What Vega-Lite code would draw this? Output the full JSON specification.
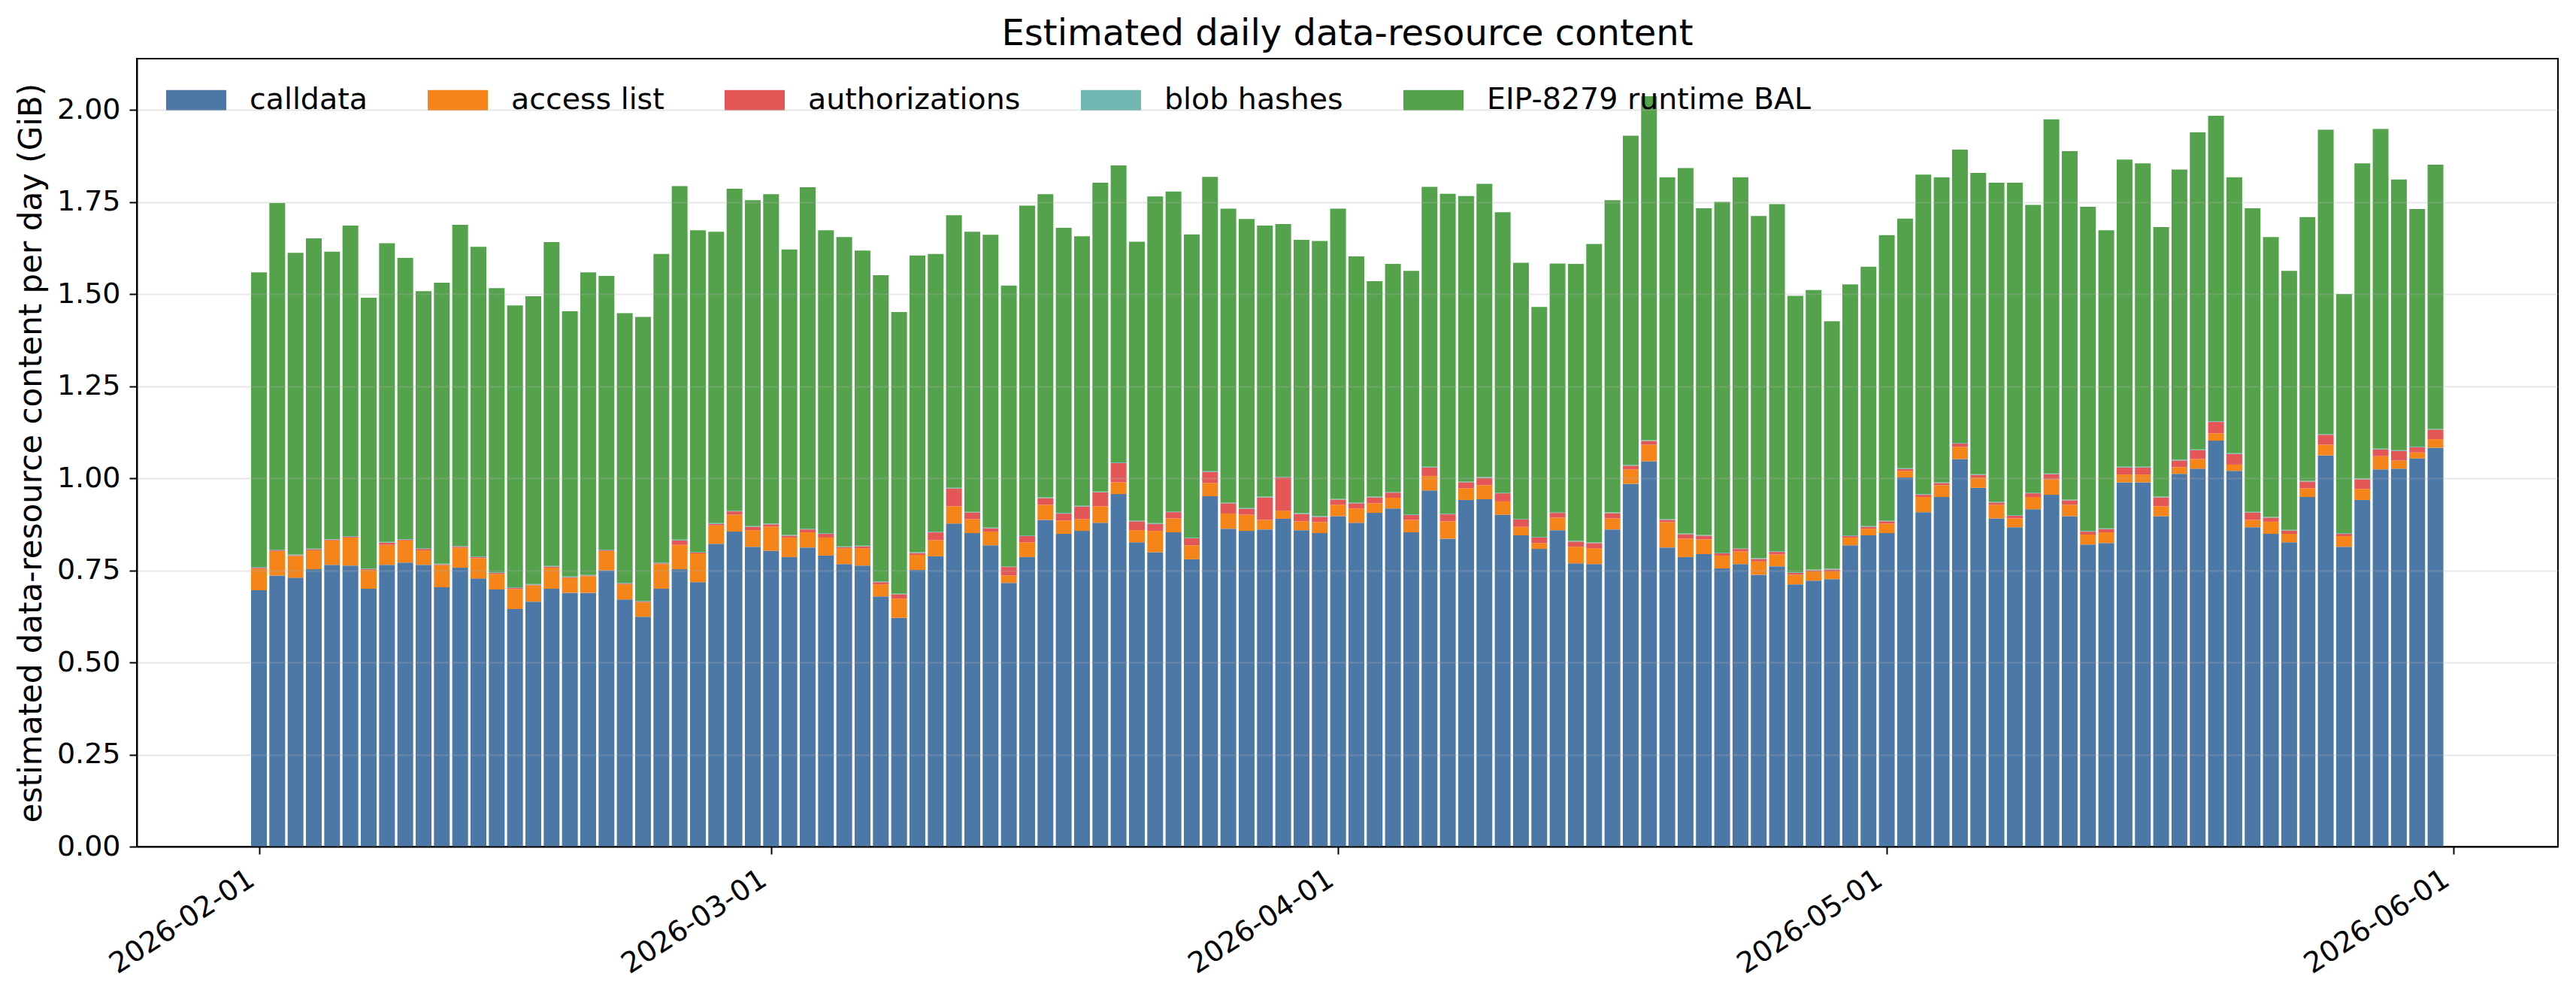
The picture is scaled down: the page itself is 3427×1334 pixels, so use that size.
{
  "$schema": "https://vega.github.io/schema/vega-lite/v6.json",
  "width": 3221,
  "height": 1048,
  "padding": {"left": 20, "top": 22, "right": 21, "bottom": 10},
  "autosize": {"type": "pad"},
  "background": "white",
  "config": {"font": "DejaVu Sans", "view": {"stroke": "black", "strokeWidth": 2}},
  "title": {"text": "Estimated daily data-resource content", "fontSize": 48, "fontWeight": "normal", "color": "black", "anchor": "middle", "offset": 8},
  "data": {"values": [
    {"date":"2026-02-01","calldata":0.696,"access_list":0.058,"authorizations":0.003,"blob_hashes":0.002,"bal":0.800},
    {"date":"2026-02-02","calldata":0.736,"access_list":0.066,"authorizations":0.002,"blob_hashes":0.002,"bal":0.941},
    {"date":"2026-02-03","calldata":0.730,"access_list":0.059,"authorizations":0.002,"blob_hashes":0.002,"bal":0.819},
    {"date":"2026-02-04","calldata":0.753,"access_list":0.051,"authorizations":0.003,"blob_hashes":0.002,"bal":0.842},
    {"date":"2026-02-05","calldata":0.765,"access_list":0.066,"authorizations":0.002,"blob_hashes":0.002,"bal":0.780},
    {"date":"2026-02-06","calldata":0.763,"access_list":0.076,"authorizations":0.002,"blob_hashes":0.002,"bal":0.843},
    {"date":"2026-02-07","calldata":0.700,"access_list":0.051,"authorizations":0.002,"blob_hashes":0.002,"bal":0.735},
    {"date":"2026-02-08","calldata":0.765,"access_list":0.054,"authorizations":0.006,"blob_hashes":0.002,"bal":0.811},
    {"date":"2026-02-09","calldata":0.771,"access_list":0.060,"authorizations":0.002,"blob_hashes":0.002,"bal":0.763},
    {"date":"2026-02-10","calldata":0.765,"access_list":0.039,"authorizations":0.004,"blob_hashes":0.002,"bal":0.698},
    {"date":"2026-02-11","calldata":0.704,"access_list":0.060,"authorizations":0.002,"blob_hashes":0.002,"bal":0.763},
    {"date":"2026-02-12","calldata":0.757,"access_list":0.054,"authorizations":0.003,"blob_hashes":0.002,"bal":0.872},
    {"date":"2026-02-13","calldata":0.728,"access_list":0.055,"authorizations":0.003,"blob_hashes":0.002,"bal":0.840},
    {"date":"2026-02-14","calldata":0.698,"access_list":0.042,"authorizations":0.003,"blob_hashes":0.002,"bal":0.771},
    {"date":"2026-02-15","calldata":0.645,"access_list":0.054,"authorizations":0.003,"blob_hashes":0.002,"bal":0.765},
    {"date":"2026-02-16","calldata":0.665,"access_list":0.044,"authorizations":0.002,"blob_hashes":0.002,"bal":0.781},
    {"date":"2026-02-17","calldata":0.700,"access_list":0.057,"authorizations":0.003,"blob_hashes":0.002,"bal":0.879},
    {"date":"2026-02-18","calldata":0.689,"access_list":0.040,"authorizations":0.002,"blob_hashes":0.002,"bal":0.720},
    {"date":"2026-02-19","calldata":0.689,"access_list":0.045,"authorizations":0.002,"blob_hashes":0.002,"bal":0.821},
    {"date":"2026-02-20","calldata":0.750,"access_list":0.052,"authorizations":0.002,"blob_hashes":0.002,"bal":0.743},
    {"date":"2026-02-21","calldata":0.671,"access_list":0.041,"authorizations":0.002,"blob_hashes":0.002,"bal":0.732},
    {"date":"2026-02-22","calldata":0.624,"access_list":0.039,"authorizations":0.002,"blob_hashes":0.002,"bal":0.771},
    {"date":"2026-02-23","calldata":0.700,"access_list":0.067,"authorizations":0.002,"blob_hashes":0.002,"bal":0.838},
    {"date":"2026-02-24","calldata":0.753,"access_list":0.066,"authorizations":0.012,"blob_hashes":0.002,"bal":0.960},
    {"date":"2026-02-25","calldata":0.718,"access_list":0.078,"authorizations":0.002,"blob_hashes":0.002,"bal":0.873},
    {"date":"2026-02-26","calldata":0.822,"access_list":0.050,"authorizations":0.004,"blob_hashes":0.002,"bal":0.791},
    {"date":"2026-02-27","calldata":0.855,"access_list":0.046,"authorizations":0.009,"blob_hashes":0.002,"bal":0.874},
    {"date":"2026-02-28","calldata":0.814,"access_list":0.045,"authorizations":0.009,"blob_hashes":0.002,"bal":0.885},
    {"date":"2026-03-01","calldata":0.803,"access_list":0.066,"authorizations":0.006,"blob_hashes":0.002,"bal":0.894},
    {"date":"2026-03-02","calldata":0.786,"access_list":0.053,"authorizations":0.005,"blob_hashes":0.002,"bal":0.775},
    {"date":"2026-03-03","calldata":0.812,"access_list":0.041,"authorizations":0.008,"blob_hashes":0.002,"bal":0.927},
    {"date":"2026-03-04","calldata":0.790,"access_list":0.049,"authorizations":0.010,"blob_hashes":0.002,"bal":0.822},
    {"date":"2026-03-05","calldata":0.767,"access_list":0.043,"authorizations":0.003,"blob_hashes":0.002,"bal":0.840},
    {"date":"2026-03-06","calldata":0.763,"access_list":0.047,"authorizations":0.005,"blob_hashes":0.002,"bal":0.801},
    {"date":"2026-03-07","calldata":0.679,"access_list":0.033,"authorizations":0.006,"blob_hashes":0.002,"bal":0.831},
    {"date":"2026-03-08","calldata":0.621,"access_list":0.052,"authorizations":0.012,"blob_hashes":0.002,"bal":0.764},
    {"date":"2026-03-09","calldata":0.751,"access_list":0.041,"authorizations":0.005,"blob_hashes":0.002,"bal":0.806},
    {"date":"2026-03-10","calldata":0.788,"access_list":0.044,"authorizations":0.021,"blob_hashes":0.002,"bal":0.754},
    {"date":"2026-03-11","calldata":0.877,"access_list":0.047,"authorizations":0.048,"blob_hashes":0.002,"bal":0.740},
    {"date":"2026-03-12","calldata":0.851,"access_list":0.038,"authorizations":0.018,"blob_hashes":0.002,"bal":0.760},
    {"date":"2026-03-13","calldata":0.818,"access_list":0.037,"authorizations":0.009,"blob_hashes":0.002,"bal":0.795},
    {"date":"2026-03-14","calldata":0.716,"access_list":0.020,"authorizations":0.023,"blob_hashes":0.002,"bal":0.762},
    {"date":"2026-03-15","calldata":0.786,"access_list":0.040,"authorizations":0.017,"blob_hashes":0.002,"bal":0.895},
    {"date":"2026-03-16","calldata":0.887,"access_list":0.041,"authorizations":0.018,"blob_hashes":0.002,"bal":0.823},
    {"date":"2026-03-17","calldata":0.849,"access_list":0.036,"authorizations":0.019,"blob_hashes":0.002,"bal":0.774},
    {"date":"2026-03-18","calldata":0.857,"access_list":0.032,"authorizations":0.034,"blob_hashes":0.002,"bal":0.732},
    {"date":"2026-03-19","calldata":0.879,"access_list":0.045,"authorizations":0.038,"blob_hashes":0.002,"bal":0.838},
    {"date":"2026-03-20","calldata":0.957,"access_list":0.032,"authorizations":0.052,"blob_hashes":0.002,"bal":0.806},
    {"date":"2026-03-21","calldata":0.826,"access_list":0.033,"authorizations":0.024,"blob_hashes":0.002,"bal":0.757},
    {"date":"2026-03-22","calldata":0.799,"access_list":0.058,"authorizations":0.019,"blob_hashes":0.002,"bal":0.887},
    {"date":"2026-03-23","calldata":0.853,"access_list":0.038,"authorizations":0.017,"blob_hashes":0.002,"bal":0.868},
    {"date":"2026-03-24","calldata":0.780,"access_list":0.038,"authorizations":0.019,"blob_hashes":0.002,"bal":0.823},
    {"date":"2026-03-25","calldata":0.951,"access_list":0.036,"authorizations":0.030,"blob_hashes":0.002,"bal":0.799},
    {"date":"2026-03-26","calldata":0.863,"access_list":0.041,"authorizations":0.028,"blob_hashes":0.002,"bal":0.798},
    {"date":"2026-03-27","calldata":0.857,"access_list":0.044,"authorizations":0.016,"blob_hashes":0.002,"bal":0.785},
    {"date":"2026-03-28","calldata":0.861,"access_list":0.026,"authorizations":0.061,"blob_hashes":0.002,"bal":0.736},
    {"date":"2026-03-29","calldata":0.890,"access_list":0.022,"authorizations":0.090,"blob_hashes":0.002,"bal":0.686},
    {"date":"2026-03-30","calldata":0.859,"access_list":0.024,"authorizations":0.020,"blob_hashes":0.002,"bal":0.742},
    {"date":"2026-03-31","calldata":0.851,"access_list":0.030,"authorizations":0.014,"blob_hashes":0.002,"bal":0.747},
    {"date":"2026-04-01","calldata":0.897,"access_list":0.031,"authorizations":0.014,"blob_hashes":0.002,"bal":0.788},
    {"date":"2026-04-02","calldata":0.879,"access_list":0.039,"authorizations":0.014,"blob_hashes":0.002,"bal":0.668},
    {"date":"2026-04-03","calldata":0.906,"access_list":0.026,"authorizations":0.016,"blob_hashes":0.002,"bal":0.585},
    {"date":"2026-04-04","calldata":0.918,"access_list":0.029,"authorizations":0.014,"blob_hashes":0.002,"bal":0.619},
    {"date":"2026-04-05","calldata":0.853,"access_list":0.034,"authorizations":0.013,"blob_hashes":0.002,"bal":0.661},
    {"date":"2026-04-06","calldata":0.967,"access_list":0.039,"authorizations":0.023,"blob_hashes":0.002,"bal":0.760},
    {"date":"2026-04-07","calldata":0.836,"access_list":0.047,"authorizations":0.019,"blob_hashes":0.002,"bal":0.868},
    {"date":"2026-04-08","calldata":0.941,"access_list":0.032,"authorizations":0.016,"blob_hashes":0.002,"bal":0.775},
    {"date":"2026-04-09","calldata":0.943,"access_list":0.038,"authorizations":0.020,"blob_hashes":0.002,"bal":0.796},
    {"date":"2026-04-10","calldata":0.901,"access_list":0.036,"authorizations":0.022,"blob_hashes":0.002,"bal":0.761},
    {"date":"2026-04-11","calldata":0.845,"access_list":0.023,"authorizations":0.020,"blob_hashes":0.002,"bal":0.695},
    {"date":"2026-04-12","calldata":0.808,"access_list":0.016,"authorizations":0.015,"blob_hashes":0.002,"bal":0.624},
    {"date":"2026-04-13","calldata":0.859,"access_list":0.034,"authorizations":0.013,"blob_hashes":0.002,"bal":0.675},
    {"date":"2026-04-14","calldata":0.769,"access_list":0.045,"authorizations":0.014,"blob_hashes":0.002,"bal":0.752},
    {"date":"2026-04-15","calldata":0.767,"access_list":0.043,"authorizations":0.014,"blob_hashes":0.002,"bal":0.810},
    {"date":"2026-04-16","calldata":0.861,"access_list":0.030,"authorizations":0.014,"blob_hashes":0.002,"bal":0.848},
    {"date":"2026-04-17","calldata":0.985,"access_list":0.039,"authorizations":0.010,"blob_hashes":0.002,"bal":0.894},
    {"date":"2026-04-18","calldata":1.046,"access_list":0.045,"authorizations":0.010,"blob_hashes":0.002,"bal":0.934},
    {"date":"2026-04-19","calldata":0.812,"access_list":0.069,"authorizations":0.006,"blob_hashes":0.002,"bal":0.928},
    {"date":"2026-04-20","calldata":0.786,"access_list":0.050,"authorizations":0.012,"blob_hashes":0.002,"bal":0.992},
    {"date":"2026-04-21","calldata":0.794,"access_list":0.040,"authorizations":0.010,"blob_hashes":0.002,"bal":0.887},
    {"date":"2026-04-22","calldata":0.755,"access_list":0.035,"authorizations":0.006,"blob_hashes":0.002,"bal":0.952},
    {"date":"2026-04-23","calldata":0.767,"access_list":0.034,"authorizations":0.007,"blob_hashes":0.002,"bal":1.007},
    {"date":"2026-04-24","calldata":0.738,"access_list":0.036,"authorizations":0.007,"blob_hashes":0.002,"bal":0.929},
    {"date":"2026-04-25","calldata":0.761,"access_list":0.032,"authorizations":0.007,"blob_hashes":0.002,"bal":0.942},
    {"date":"2026-04-26","calldata":0.712,"access_list":0.026,"authorizations":0.005,"blob_hashes":0.002,"bal":0.750},
    {"date":"2026-04-27","calldata":0.722,"access_list":0.025,"authorizations":0.003,"blob_hashes":0.002,"bal":0.759},
    {"date":"2026-04-28","calldata":0.726,"access_list":0.021,"authorizations":0.005,"blob_hashes":0.002,"bal":0.672},
    {"date":"2026-04-29","calldata":0.818,"access_list":0.021,"authorizations":0.004,"blob_hashes":0.002,"bal":0.681},
    {"date":"2026-04-30","calldata":0.845,"access_list":0.018,"authorizations":0.005,"blob_hashes":0.002,"bal":0.704},
    {"date":"2026-05-01","calldata":0.851,"access_list":0.026,"authorizations":0.006,"blob_hashes":0.002,"bal":0.775},
    {"date":"2026-05-02","calldata":1.002,"access_list":0.018,"authorizations":0.005,"blob_hashes":0.002,"bal":0.678},
    {"date":"2026-05-03","calldata":0.908,"access_list":0.041,"authorizations":0.006,"blob_hashes":0.002,"bal":0.867},
    {"date":"2026-05-04","calldata":0.949,"access_list":0.032,"authorizations":0.006,"blob_hashes":0.002,"bal":0.828},
    {"date":"2026-05-05","calldata":1.052,"access_list":0.033,"authorizations":0.009,"blob_hashes":0.002,"bal":0.796},
    {"date":"2026-05-06","calldata":0.974,"access_list":0.028,"authorizations":0.007,"blob_hashes":0.002,"bal":0.818},
    {"date":"2026-05-07","calldata":0.891,"access_list":0.037,"authorizations":0.006,"blob_hashes":0.002,"bal":0.866},
    {"date":"2026-05-08","calldata":0.867,"access_list":0.024,"authorizations":0.007,"blob_hashes":0.002,"bal":0.902},
    {"date":"2026-05-09","calldata":0.916,"access_list":0.033,"authorizations":0.010,"blob_hashes":0.002,"bal":0.781},
    {"date":"2026-05-10","calldata":0.955,"access_list":0.042,"authorizations":0.014,"blob_hashes":0.002,"bal":0.961},
    {"date":"2026-05-11","calldata":0.897,"access_list":0.031,"authorizations":0.012,"blob_hashes":0.002,"bal":0.946},
    {"date":"2026-05-12","calldata":0.820,"access_list":0.027,"authorizations":0.008,"blob_hashes":0.002,"bal":0.880},
    {"date":"2026-05-13","calldata":0.824,"access_list":0.029,"authorizations":0.009,"blob_hashes":0.002,"bal":0.809},
    {"date":"2026-05-14","calldata":0.989,"access_list":0.021,"authorizations":0.019,"blob_hashes":0.002,"bal":0.834},
    {"date":"2026-05-15","calldata":0.989,"access_list":0.021,"authorizations":0.019,"blob_hashes":0.002,"bal":0.824},
    {"date":"2026-05-16","calldata":0.897,"access_list":0.027,"authorizations":0.024,"blob_hashes":0.002,"bal":0.732},
    {"date":"2026-05-17","calldata":1.012,"access_list":0.018,"authorizations":0.018,"blob_hashes":0.002,"bal":0.788},
    {"date":"2026-05-18","calldata":1.026,"access_list":0.026,"authorizations":0.024,"blob_hashes":0.002,"bal":0.861},
    {"date":"2026-05-19","calldata":1.102,"access_list":0.020,"authorizations":0.031,"blob_hashes":0.002,"bal":0.829},
    {"date":"2026-05-20","calldata":1.020,"access_list":0.017,"authorizations":0.029,"blob_hashes":0.002,"bal":0.749},
    {"date":"2026-05-21","calldata":0.867,"access_list":0.020,"authorizations":0.020,"blob_hashes":0.002,"bal":0.824},
    {"date":"2026-05-22","calldata":0.849,"access_list":0.033,"authorizations":0.011,"blob_hashes":0.002,"bal":0.760},
    {"date":"2026-05-23","calldata":0.826,"access_list":0.023,"authorizations":0.009,"blob_hashes":0.002,"bal":0.703},
    {"date":"2026-05-24","calldata":0.949,"access_list":0.024,"authorizations":0.018,"blob_hashes":0.002,"bal":0.716},
    {"date":"2026-05-25","calldata":1.062,"access_list":0.029,"authorizations":0.027,"blob_hashes":0.002,"bal":0.826},
    {"date":"2026-05-26","calldata":0.814,"access_list":0.029,"authorizations":0.006,"blob_hashes":0.002,"bal":0.649},
    {"date":"2026-05-27","calldata":0.941,"access_list":0.030,"authorizations":0.026,"blob_hashes":0.002,"bal":0.856},
    {"date":"2026-05-28","calldata":1.024,"access_list":0.036,"authorizations":0.018,"blob_hashes":0.002,"bal":0.868},
    {"date":"2026-05-29","calldata":1.026,"access_list":0.022,"authorizations":0.026,"blob_hashes":0.002,"bal":0.735},
    {"date":"2026-05-30","calldata":1.054,"access_list":0.016,"authorizations":0.014,"blob_hashes":0.002,"bal":0.645},
    {"date":"2026-05-31","calldata":1.083,"access_list":0.023,"authorizations":0.026,"blob_hashes":0.002,"bal":0.717}
  ]},
  "transform": [
    {"fold": ["calldata", "access_list", "authorizations", "blob_hashes", "bal"], "as": ["component", "gib"]},
    {"window": [{"op": "row_number", "as": "layer"}], "groupby": ["date"]}
  ],
  "mark": {"type": "bar", "size": 21},
  "encoding": {
    "x": {
      "field": "date",
      "type": "temporal",
      "scale": {
        "type": "utc",
        "domain": [
          {"year": 2026, "month": 1, "date": 25, "hours": 12, "minutes": 39, "utc": true},
          {"year": 2026, "month": 6, "date": 6, "hours": 11, "minutes": 46, "utc": true}
        ]
      },
      "axis": {
        "title": null,
        "grid": false,
        "values": [
          {"year": 2026, "month": 2, "date": 1, "utc": true},
          {"year": 2026, "month": 3, "date": 1, "utc": true},
          {"year": 2026, "month": 4, "date": 1, "utc": true},
          {"year": 2026, "month": 5, "date": 1, "utc": true},
          {"year": 2026, "month": 6, "date": 1, "utc": true}
        ],
        "format": "%Y-%m-%d",
        "labelAngle": -33,
        "labelAlign": "right",
        "labelBaseline": "top",
        "labelFontSize": 38,
        "labelColor": "black",
        "labelPadding": 14,
        "labelOffset": -20,
        "labelLimit": 0,
        "labelFlush": false,
        "labelOverlap": false,
        "tickSize": 10,
        "tickWidth": 2,
        "tickColor": "black",
        "domainColor": "black",
        "domainWidth": 2,
        "zindex": 1
      }
    },
    "y": {
      "field": "gib",
      "type": "quantitative",
      "stack": "zero",
      "scale": {"domain": [0, 2.139], "nice": false, "zero": true},
      "axis": {
        "title": "estimated data-resource content per day (GiB)",
        "titleFontSize": 42,
        "titleFontWeight": "normal",
        "titleColor": "black",
        "titlePadding": 12,
        "values": [0, 0.25, 0.5, 0.75, 1, 1.25, 1.5, 1.75, 2],
        "format": ".2f",
        "labelFontSize": 38,
        "labelColor": "black",
        "labelPadding": 12,
        "tickSize": 10,
        "tickWidth": 2,
        "tickColor": "black",
        "domainColor": "black",
        "domainWidth": 2,
        "gridColor": "#b0b0b0",
        "gridOpacity": 0.3,
        "gridWidth": 2,
        "zindex": 1
      }
    },
    "color": {
      "field": "component",
      "type": "nominal",
      "scale": {
        "domain": ["calldata", "access_list", "authorizations", "blob_hashes", "bal"],
        "range": ["#4c78a8", "#f58518", "#e45756", "#72b7b2", "#54a24b"]
      },
      "legend": {
        "title": null,
        "orient": "none",
        "legendX": 39,
        "legendY": 15,
        "direction": "horizontal",
        "columns": 5,
        "padding": 0,
        "labelExpr": "datum.label == 'access_list' ? 'access list' : datum.label == 'blob_hashes' ? 'blob hashes' : datum.label == 'bal' ? 'EIP-8279 runtime BAL' : datum.label",
        "labelFontSize": 39.5,
        "labelColor": "black",
        "labelLimit": 0,
        "labelOffset": 31,
        "columnPadding": 80,
        "symbolType": "M-1,-0.34L1,-0.34L1,0.34L-1,0.34Z",
        "symbolSize": 6400,
        "symbolStrokeWidth": 0,
        "symbolOpacity": 1
      }
    },
    "order": {"field": "layer", "type": "quantitative", "sort": "ascending"}
  }
}
